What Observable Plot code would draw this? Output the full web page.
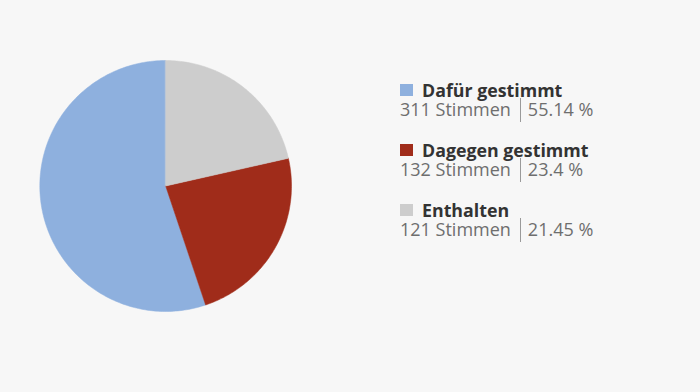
<!DOCTYPE html>
<html>
<head>
<meta charset="utf-8">
<script src="https://cdn.jsdelivr.net/npm/d3@7"></script>
<script src="https://cdn.jsdelivr.net/npm/@observablehq/plot@0.6"></script>
<style>
  html, body { margin: 0; padding: 0; background: #f7f7f7; }
  #wrap { position: relative; width: 700px; height: 392px; background: #f7f7f7; overflow: hidden; font-family: "Open Sans", "Noto Sans", sans-serif; }
  #chart { position: absolute; left: 0; top: 0; }
  #legend { position: absolute; left: 400px; top: 79px; }
  .item { height: 60px; }
  .head { display: flex; align-items: center; font-weight: 700; font-size: 17.8px; color: #333; line-height: 22px; height: 22px; }
  .sw { width: 12.5px; height: 12.5px; margin-right: 9.5px; flex: none; }
  .sub { font-size: 18px; color: #6e6e6e; line-height: 17px; height: 17px; white-space: nowrap; }
  .bar { display: inline-block; position: relative; width: 2px; height: 0; margin: 0 6px 0 9px; }
  .bar::after { content: ""; position: absolute; left: 0; top: -18px; width: 1.6px; height: 24px; background: #9a9a9a; }
</style>
</head>
<body>
<div id="wrap">
  <div id="chart"></div>
  <div id="legend"></div>
</div>
<script>
const categories = ["Dafür gestimmt", "Dagegen gestimmt", "Enthalten"];
const votes = [311, 132, 121];
const percents = ["55.14", "23.4", "21.45"];
const colors = ["#8eb0de", "#a02c1a", "#cdcdcd"];

// Build slice outlines (counter-clockwise from 12 o'clock, in legend order)
const total = d3.sum(votes);
const slices = [];
let start = 0;
categories.forEach((name, i) => {
  const sweep = votes[i] / total * 2 * Math.PI;
  const steps = Math.max(2, Math.ceil(sweep / (Math.PI / 180)));
  slices.push({name, x: 0, y: 0});
  for (let k = 0; k <= steps; k++) {
    const a = -(start + sweep * k / steps);
    slices.push({name, x: Math.sin(a), y: Math.cos(a)});
  }
  start += sweep;
});

const plot = Plot.plot({
  width: 330,
  height: 392,
  marginLeft: 39.3,
  marginRight: 39,
  marginTop: 60,
  marginBottom: 81,
  x: {domain: [-1, 1], axis: null},
  y: {domain: [-1, 1], axis: null},
  color: {domain: categories, range: colors},
  style: {background: "transparent"},
  marks: [
    Plot.line(slices, {x: "x", y: "y", z: "name", fill: "name", stroke: "name", strokeWidth: 0.5, curve: "linear-closed"})
  ]
});
document.getElementById("chart").appendChild(plot);

const legend = document.getElementById("legend");
categories.forEach((name, i) => {
  const item = document.createElement("div");
  item.className = "item";
  item.innerHTML = `<div class="head"><span class="sw" style="background:${colors[i]}"></span>${name}</div>` +
    `<div class="sub">${votes[i]} Stimmen<span class="bar"></span>${percents[i]} %</div>`;
  legend.appendChild(item);
});
</script>
</body>
</html>
